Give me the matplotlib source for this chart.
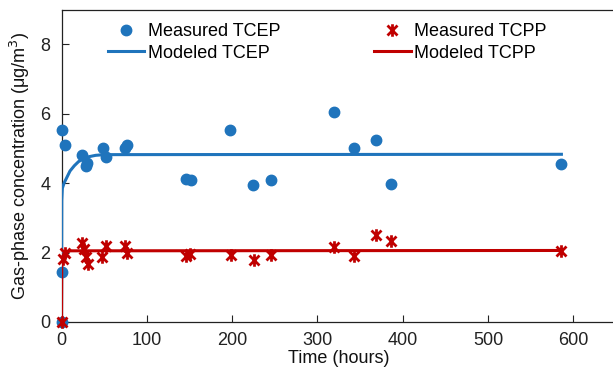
import matplotlib
matplotlib.use("Agg")
import matplotlib.pyplot as plt
from matplotlib.path import Path

plt.rcParams['font.family'] = ['Liberation Sans', 'DejaVu Sans']

# Measured TCEP
tcep_t = [0, 0.5, 1, 4, 24, 29, 30, 49, 52, 75, 77, 146, 152, 198, 225, 245, 320, 343, 369, 386, 585]
tcep_c = [0, 1.44, 5.54, 5.11, 4.82, 4.48, 4.57, 5.0, 4.75, 5.0, 5.1, 4.13, 4.08, 5.54, 3.94, 4.1, 6.06, 5.01, 5.23, 3.98, 4.54]
# Measured TCPP
tcpp_t = [0, 1.5, 4, 24, 26, 29, 31, 48, 52, 75, 77, 146, 151, 199, 226, 245, 320, 343, 369, 386, 585]
tcpp_c = [0, 1.82, 1.98, 2.27, 2.11, 1.87, 1.68, 1.87, 2.18, 2.18, 1.99, 1.9, 1.97, 1.92, 1.8, 1.92, 2.15, 1.9, 2.5, 2.34, 2.04]
# Modeled curves
mod_tcep_t = [0, 0.3, 1, 3, 6, 10, 15, 20, 30, 40, 50, 586]
mod_tcep_c = [0, 3.5, 3.85, 4.0, 4.15, 4.35, 4.5, 4.62, 4.75, 4.8, 4.82, 4.83]
mod_tcpp_t = [0, 0.3, 2, 5, 10, 586]
mod_tcpp_c = [0, 1.75, 1.9, 1.98, 2.05, 2.06]

xticks = [0, 100, 200, 300, 400, 500, 600]
yticks = [0, 2, 4, 6, 8]

blue = '#1f74bc'
red = '#c00000'

ast = Path([(0, -1), (0, 1), (-0.8, -0.8), (0.8, 0.8), (-0.8, 0.8), (0.8, -0.8)],
           [Path.MOVETO, Path.LINETO, Path.MOVETO, Path.LINETO, Path.MOVETO, Path.LINETO])

fig = plt.figure(figsize=(6.13, 3.79), dpi=100)
W, H = 613, 379
x0, x1 = 61.5, 616.0
y0, y1 = 322.0, 9.5
ax = fig.add_axes([x0 / W, (H - y0) / H, (x1 - x0) / W, (y0 - y1) / H])

ax.plot(tcep_t, tcep_c, linestyle='none', marker='o', markersize=7.5, color=blue,
        clip_on=False, zorder=3, label='Measured TCEP')
l1, = ax.plot(mod_tcep_t, mod_tcep_c, color=blue, lw=2.2, zorder=4, label='Modeled TCEP')
ax.plot(tcpp_t, tcpp_c, linestyle='none', marker=ast, markersize=9, markeredgewidth=2.0,
        color=red, clip_on=False, zorder=6, label='Measured TCPP')
ax.plot(mod_tcpp_t, mod_tcpp_c, color=red, lw=2.2, zorder=5, label='Modeled TCPP')

ax.set_xlim(0, 650)
ax.set_ylim(0, 9)
ax.set_xticks(xticks)
ax.set_yticks(yticks)
ax.tick_params(direction='in', length=5, width=0.8, labelsize=13, colors='#222222')
ax.tick_params(axis='x', pad=7)
ax.tick_params(axis='y', pad=8)
ax.spines['right'].set_visible(False)
for s in ['left', 'bottom', 'top']:
    ax.spines[s].set_color('#222222')
    ax.spines[s].set_linewidth(0.9)

ax.set_xlabel('Time (hours)', fontsize=13, labelpad=1, color='#111111')
ax.set_ylabel('Gas-phase concentration (μg/m$^{3}$)', fontsize=13, labelpad=6, color='#111111')

h, lab = ax.get_legend_handles_labels()
order = [0, 1, 2, 3]
leg = ax.legend([h[i] for i in order], [lab[i] for i in order], ncol=2, frameon=False,
                fontsize=13, loc='upper left', bbox_to_anchor=(0.06, 1.0),
                handlelength=2.0, handletextpad=0.2, columnspacing=5.2,
                labelspacing=0.25, borderaxespad=0.35)

fig.savefig('out.png', dpi=100)
